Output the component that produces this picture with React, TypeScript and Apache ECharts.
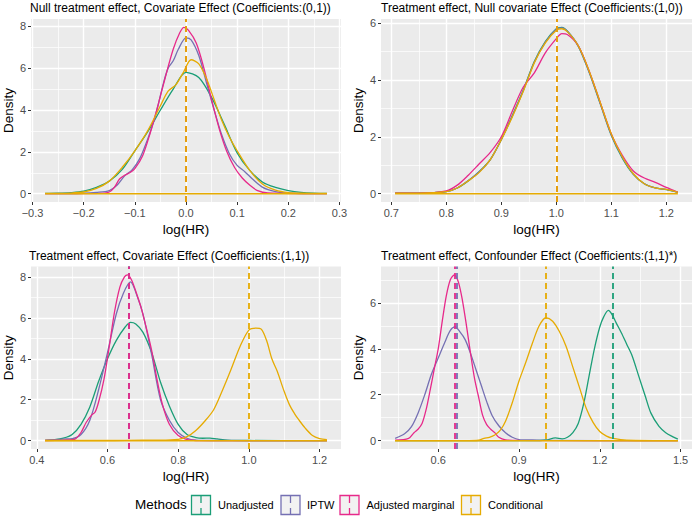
import React, { useEffect, useRef } from "react";
import * as echarts from "echarts";

// ---------- data ----------
const METHODS = ["Unadjusted", "IPTW", "Adjusted marginal", "Conditional"];
const COLORS = ["#1B9E77", "#7570B3", "#E7298A", "#E6AB02"];
const PANEL_TITLES = [
  "Null treatment effect, Covariate Effect (Coefficients:(0,1))",
  "Treatment effect, Null covariate Effect (Coefficients:(1,0))",
  "Treatment effect, Covariate Effect (Coefficients:(1,1))",
  "Treatment effect, Confounder Effect (Coefficients:(1,1)*)",
];

// Panel 1
const p1UnadjX = [-0.2755, -0.25, -0.225, -0.2, -0.175, -0.15, -0.125, -0.1, -0.075, -0.05, -0.025, 0, 0.025, 0.05, 0.075, 0.1, 0.125, 0.15, 0.175, 0.2, 0.225, 0.25, 0.2755];
const p1UnadjY = [0.01, 0.02, 0.05, 0.12, 0.3, 0.6, 1.15, 2.05, 2.95, 4.0, 5.0, 5.8, 5.55, 4.6, 3.3, 1.95, 1.1, 0.55, 0.3, 0.15, 0.06, 0.02, 0.01];
const p1IptwX = [-0.2755, -0.2, -0.175, -0.15, -0.135, -0.12, -0.105, -0.09, -0.075, -0.06, -0.045, -0.035, -0.025, -0.015, 0, 0.01, 0.025, 0.04, 0.055, 0.07, 0.085, 0.1, 0.115, 0.13, 0.15, 0.175, 0.2, 0.2755];
const p1IptwY = [0.0, 0.02, 0.06, 0.15, 0.4, 0.85, 1.15, 1.7, 2.6, 3.7, 5.2, 6.0, 6.35, 6.9, 7.45, 7.35, 6.6, 5.3, 4.0, 2.8, 1.9, 1.35, 1.05, 0.7, 0.3, 0.1, 0.03, 0.0];
const p1AdjX = [-0.2755, -0.17, -0.15, -0.14, -0.13, -0.12, -0.11, -0.1, -0.085, -0.07, -0.055, -0.04, -0.025, -0.012, -0.004, 0.005, 0.02, 0.035, 0.05, 0.065, 0.08, 0.095, 0.11, 0.125, 0.14, 0.16, 0.2755];
const p1AdjY = [0, 0.01, 0.08, 0.3, 0.7, 0.88, 1.0, 1.2, 1.8, 2.9, 4.2, 5.6, 6.9, 7.7, 7.95, 7.8, 7.2, 6.0, 4.5, 3.1, 2.0, 1.25, 0.75, 0.4, 0.15, 0.04, 0];
const p1CondX = [-0.2755, -0.225, -0.2, -0.175, -0.15, -0.125, -0.1, -0.075, -0.05, -0.035, -0.02, -0.005, 0.01, 0.025, 0.04, 0.055, 0.07, 0.085, 0.1, 0.125, 0.15, 0.175, 0.2, 0.225, 0.2755];
const p1CondY = [0.01, 0.03, 0.08, 0.25, 0.6, 1.25, 2.05, 3.0, 4.2, 4.9, 5.2, 5.8, 6.4, 6.2, 5.5, 4.5, 3.5, 2.7, 2.05, 1.1, 0.45, 0.17, 0.05, 0.02, 0.01];
const p1Means = [0.0, 0.0, -0.002, 0.0];

// Panel 2
const p2X = [0.707, 0.75, 0.8, 0.82, 0.84, 0.86, 0.88, 0.9, 0.92, 0.94, 0.96, 0.98, 1.0, 1.01, 1.02, 1.04, 1.06, 1.08, 1.1, 1.12, 1.14, 1.16, 1.18, 1.2, 1.221];
const p2UnadjY = [0.02, 0.02, 0.07, 0.2, 0.45, 0.78, 1.2, 1.9, 2.75, 3.65, 4.65, 5.35, 5.8, 5.85, 5.72, 5.18, 4.25, 3.15, 2.05, 1.25, 0.68, 0.35, 0.2, 0.14, 0.05];
const p2IptwY = [0.02, 0.02, 0.07, 0.2, 0.46, 0.77, 1.2, 1.9, 2.72, 3.62, 4.62, 5.32, 5.78, 5.83, 5.71, 5.2, 4.28, 3.18, 2.08, 1.28, 0.69, 0.35, 0.2, 0.15, 0.05];
const p2AdjY = [0.02, 0.02, 0.1, 0.3, 0.65, 1.05, 1.45, 2.0, 2.9, 3.75, 4.25, 4.95, 5.45, 5.63, 5.6, 5.2, 4.3, 3.2, 2.1, 1.35, 0.8, 0.55, 0.4, 0.22, 0.05];
const p2CondY = [0.02, 0.02, 0.07, 0.2, 0.45, 0.75, 1.2, 1.9, 2.7, 3.6, 4.6, 5.3, 5.75, 5.8, 5.7, 5.2, 4.3, 3.2, 2.1, 1.3, 0.7, 0.35, 0.2, 0.15, 0.05];
const p2Means = [1.0, 1.0, 0.998, 1.0];

// Panel 3
const p3UnadjX = [0.4234, 0.45, 0.475, 0.5, 0.525, 0.55, 0.575, 0.6, 0.625, 0.65, 0.665, 0.68, 0.7, 0.725, 0.75, 0.775, 0.8, 0.825, 0.85, 0.87, 0.89, 0.91, 0.94, 1.0, 1.2208];
const p3UnadjY = [0.02, 0.05, 0.12, 0.3, 0.8, 1.65, 2.9, 4.0, 4.9, 5.55, 5.78, 5.7, 5.3, 4.3, 2.85, 1.7, 0.8, 0.3, 0.15, 0.12, 0.13, 0.09, 0.03, 0.01, 0.0];
const p3IptwX = [0.4234, 0.475, 0.5, 0.525, 0.55, 0.575, 0.6, 0.625, 0.645, 0.665, 0.685, 0.7, 0.725, 0.75, 0.775, 0.8, 0.825, 0.85, 0.9, 1.2208];
const p3IptwY = [0.02, 0.08, 0.1, 0.3, 1.0, 2.5, 4.3, 6.2, 7.2, 7.75, 7.0, 6.2, 4.2, 2.0, 1.0, 0.4, 0.12, 0.03, 0.01, 0.0];
const p3AdjX = [0.4234, 0.475, 0.5, 0.51, 0.525, 0.54, 0.555, 0.565, 0.575, 0.59, 0.605, 0.62, 0.635, 0.648, 0.657, 0.668, 0.68, 0.695, 0.71, 0.725, 0.74, 0.755, 0.775, 0.8, 0.825, 0.85, 1.2208];
const p3AdjY = [0.01, 0.03, 0.05, 0.1, 0.4, 0.9, 1.25, 1.4, 1.9, 3.0, 4.6, 6.3, 7.5, 8.0, 8.1, 7.85, 7.3, 6.5, 5.5, 4.4, 3.0, 1.8, 0.8, 0.25, 0.05, 0.01, 0.0];
const p3CondX = [0.4234, 0.6, 0.7, 0.75, 0.8, 0.825, 0.85, 0.875, 0.9, 0.925, 0.95, 0.975, 1.0, 1.02, 1.035, 1.05, 1.065, 1.08, 1.1, 1.115, 1.13, 1.14, 1.16, 1.18, 1.2, 1.2208];
const p3CondY = [0.01, 0.01, 0.03, 0.03, 0.07, 0.2, 0.5, 0.95, 1.5, 2.45, 3.5, 4.6, 5.4, 5.5, 5.45, 4.9, 4.0, 3.4, 2.4, 1.75, 1.3, 1.05, 0.6, 0.25, 0.1, 0.05];
const p3Means = [0.662, 0.662, 0.661, 1.0];

// Panel 4
const p4UnadjX = [0.44, 0.95, 1.0, 1.035, 1.06, 1.08, 1.1, 1.12, 1.14, 1.16, 1.18, 1.2, 1.215, 1.232, 1.245, 1.26, 1.28, 1.3, 1.32, 1.345, 1.37, 1.39, 1.42, 1.445, 1.47, 1.49];
const p4UnadjY = [0.0, 0.0, 0.03, 0.12, 0.08, 0.15, 0.35, 0.75, 1.6, 2.8, 4.0, 4.95, 5.4, 5.67, 5.5, 5.15, 4.7, 4.2, 3.7, 2.8, 1.9, 1.2, 0.62, 0.35, 0.18, 0.07];
const p4IptwX = [0.44, 0.475, 0.5, 0.525, 0.55, 0.575, 0.6, 0.625, 0.645, 0.662, 0.68, 0.7, 0.72, 0.74, 0.76, 0.78, 0.8, 0.825, 0.85, 0.875, 0.9, 0.95, 1.0, 1.49];
const p4IptwY = [0.1, 0.3, 0.6, 1.2, 2.0, 2.9, 3.6, 4.3, 4.8, 4.95, 4.75, 4.4, 3.8, 3.1, 2.4, 1.7, 1.1, 0.65, 0.35, 0.15, 0.05, 0.03, 0.01, 0.0];
const p4AdjX = [0.44, 0.49, 0.51, 0.525, 0.54, 0.555, 0.57, 0.585, 0.6, 0.615, 0.63, 0.645, 0.66, 0.675, 0.69, 0.705, 0.72, 0.735, 0.75, 0.765, 0.78, 0.795, 0.81, 0.825, 0.85, 0.9, 1.49];
const p4AdjY = [0.02, 0.1, 0.35, 0.5, 0.75, 1.35, 2.2, 3.1, 4.0, 5.2, 6.3, 7.0, 7.22, 6.9, 6.1, 5.0, 3.8, 2.7, 1.9, 1.1, 0.7, 0.5, 0.35, 0.15, 0.04, 0.01, 0.0];
const p4CondX = [0.44, 0.7, 0.75, 0.77, 0.79, 0.81, 0.83, 0.85, 0.875, 0.9, 0.925, 0.95, 0.975, 1.0, 1.025, 1.05, 1.075, 1.1, 1.125, 1.15, 1.175, 1.2, 1.225, 1.25, 1.3, 1.49];
const p4CondY = [0.0, 0.0, 0.02, 0.1, 0.15, 0.25, 0.45, 0.85, 1.65, 2.6, 3.4, 4.25, 5.0, 5.35, 5.2, 4.75, 4.1, 3.2, 2.3, 1.4, 0.8, 0.4, 0.2, 0.1, 0.02, 0.0];
const p4Means = [1.255, 0.665, 0.66, 1.0];

// Tick labels
const X_TICKS = [
  [-0.3, -0.2, -0.1, 0.0, 0.1, 0.2, 0.3],
  [0.7, 0.8, 0.9, 1.0, 1.1, 1.2],
  [0.4, 0.6, 0.8, 1.0, 1.2],
  [0.6, 0.9, 1.2, 1.5],
];
const Y_TICKS = [
  [0, 2, 4, 6, 8],
  [0, 2, 4, 6],
  [0, 2, 4, 6, 8],
  [0, 2, 4, 6],
];

// ---------- layout ----------
const FONT = "'Liberation Sans', Arial, Helvetica, sans-serif";
const GRID_BOXES = [
  { left: 30, top: 19, width: 311, height: 183 },
  { left: 381, top: 19, width: 311, height: 183 },
  { left: 29, top: 266.5, width: 312, height: 182.5 },
  { left: 381, top: 266.5, width: 311, height: 182.5 },
];
const X_SPLIT = [5, 5, 5, 4];
const Y_SPLIT = [5, 3, 5, 4];
const LEGEND_KEYS_X = [191.5, 281, 340, 461.5];
const LEGEND_LABELS_X = [218, 307, 366.5, 488];

function buildOption() {
  const panels = [
    { curves: [[p1UnadjX, p1UnadjY], [p1IptwX, p1IptwY], [p1AdjX, p1AdjY], [p1CondX, p1CondY]], means: p1Means },
    { curves: [[p2X, p2UnadjY], [p2X, p2IptwY], [p2X, p2AdjY], [p2X, p2CondY]], means: p2Means },
    { curves: [[p3UnadjX, p3UnadjY], [p3IptwX, p3IptwY], [p3AdjX, p3AdjY], [p3CondX, p3CondY]], means: p3Means },
    { curves: [[p4UnadjX, p4UnadjY], [p4IptwX, p4IptwY], [p4AdjX, p4AdjY], [p4CondX, p4CondY]], means: p4Means },
  ];

  const grid: any[] = [];
  const xAxis: any[] = [];
  const yAxis: any[] = [];
  const series: any[] = [];
  const title: any[] = [];

  panels.forEach((p, i) => {
    const box = GRID_BOXES[i];
    grid.push({ ...box, show: true, backgroundColor: "#EBEBEB", borderWidth: 0 });
    let xmin = Infinity, xmax = -Infinity, ymax = 0;
    p.curves.forEach(([xs, ys]) => {
      xmin = Math.min(xmin, ...xs);
      xmax = Math.max(xmax, ...xs);
      ymax = Math.max(ymax, ...ys);
    });
    const xr = xmax - xmin;
    const common = {
      gridIndex: i,
      type: "value",
      axisLine: { show: false, onZero: false },
      axisTick: { show: true, length: 3, lineStyle: { color: "#333333", width: 1 } },
      splitLine: { show: true, lineStyle: { color: "#FFFFFF", width: 1.4 } },
      minorTick: { show: false, splitNumber: 2 },
      minorSplitLine: { show: true, lineStyle: { color: "#FFFFFF", width: 0.7 } },
      nameLocation: "middle",
      nameTextStyle: { fontSize: 13.5, color: "#000000", fontFamily: FONT },
    };
    xAxis.push({
      ...common,
      position: "bottom",
      min: xmin - 0.05 * xr,
      max: xmax + 0.05 * xr,
      splitNumber: X_SPLIT[i],
      axisTick: { ...common.axisTick, customValues: X_TICKS[i] },
      axisLabel: {
        customValues: X_TICKS[i],
        color: "#4D4D4D",
        fontSize: 11,
        fontFamily: FONT,
        margin: 5,
        formatter: (v: number) => v.toFixed(1).replace("-", "\u2212"),
      },
      name: "log(HR)",
      nameGap: 20,
    });
    yAxis.push({
      ...common,
      position: "left",
      min: -0.05 * ymax,
      max: 1.05 * ymax,
      splitNumber: Y_SPLIT[i],
      axisTick: { ...common.axisTick, customValues: Y_TICKS[i] },
      axisLabel: {
        customValues: Y_TICKS[i],
        color: "#4D4D4D",
        fontSize: 11,
        fontFamily: FONT,
        margin: 5,
        formatter: (v: number) => String(Math.round(v)),
      },
      name: "Density",
      nameGap: 16,
    });
    title.push({
      text: PANEL_TITLES[i],
      left: box.left,
      top: box.top - 17,
      padding: 0,
      textStyle: { fontSize: 12, fontWeight: "normal", color: "#000000", fontFamily: FONT },
    });

    p.curves.forEach(([xs, ys], m) => {
      series.push({
        type: "line",
        name: METHODS[m],
        xAxisIndex: i,
        yAxisIndex: i,
        data: xs.map((x: number, k: number) => [x, ys[k]]),
        symbol: "none",
        smooth: 0.3,
        silent: true,
        lineStyle: { color: COLORS[m], width: 1.3 },
      });
      // baseline of the density outline; skipped where a later group's baseline covers it exactly
      const a = xs[0], b = xs[xs.length - 1];
      const covered = p.curves.some(([xs2], m2) => m2 > m && xs2[0] <= a && xs2[xs2.length - 1] >= b);
      if (!covered) {
        series.push({
          type: "line",
          name: METHODS[m] + " base",
          xAxisIndex: i,
          yAxisIndex: i,
          data: [[a, 0], [b, 0]],
          symbol: "none",
          silent: true,
          lineStyle: { color: COLORS[m], width: 1.5 },
        });
      }
    });
    p.means.forEach((mv, m) => {
      series.push({
        type: "line",
        name: METHODS[m] + " mean",
        xAxisIndex: i,
        yAxisIndex: i,
        data: [],
        symbol: "none",
        silent: true,
        markLine: {
          silent: true,
          symbol: ["none", "none"],
          label: { show: false },
          lineStyle: { color: COLORS[m], type: [6, 4], width: 1.8 },
          data: [{ xAxis: mv }],
        },
      });
    });
  });

  const graphic: any[] = [
    {
      type: "text",
      left: 135,
      top: 497,
      style: { text: "Methods", fontSize: 13.5, fill: "#000000", fontFamily: FONT },
    },
  ];
  METHODS.forEach((name, m) => {
    const kx = LEGEND_KEYS_X[m];
    graphic.push({
      type: "rect",
      shape: { x: kx, y: 495.5, width: 19, height: 19 },
      style: { fill: "#F2F2F2", stroke: COLORS[m], lineWidth: 1.3 },
    });
    graphic.push({
      type: "line",
      shape: { x1: kx + 9.5, y1: 496, x2: kx + 9.5, y2: 514.5 },
      style: { stroke: COLORS[m], lineWidth: 1.3, lineDash: [7, 5] },
    });
    graphic.push({
      type: "text",
      left: LEGEND_LABELS_X[m],
      top: 499,
      style: { text: name, fontSize: 11, fill: "#000000", fontFamily: FONT },
    });
  });

  return {
    animation: false,
    backgroundColor: "#FFFFFF",
    textStyle: { fontFamily: FONT },
    title,
    grid,
    xAxis,
    yAxis,
    series,
    graphic,
  };
}

export default function App() {
  const ref = useRef<HTMLDivElement>(null);
  useEffect(() => {
    const chart = echarts.init(ref.current as HTMLDivElement, null, { renderer: "svg" });
    chart.setOption(buildOption() as any);
    return () => chart.dispose();
  }, []);
  return (
    <div
      ref={ref}
      style={{ position: "fixed", left: 0, top: 0, width: 692, height: 523, background: "#FFFFFF" }}
    />
  );
}
